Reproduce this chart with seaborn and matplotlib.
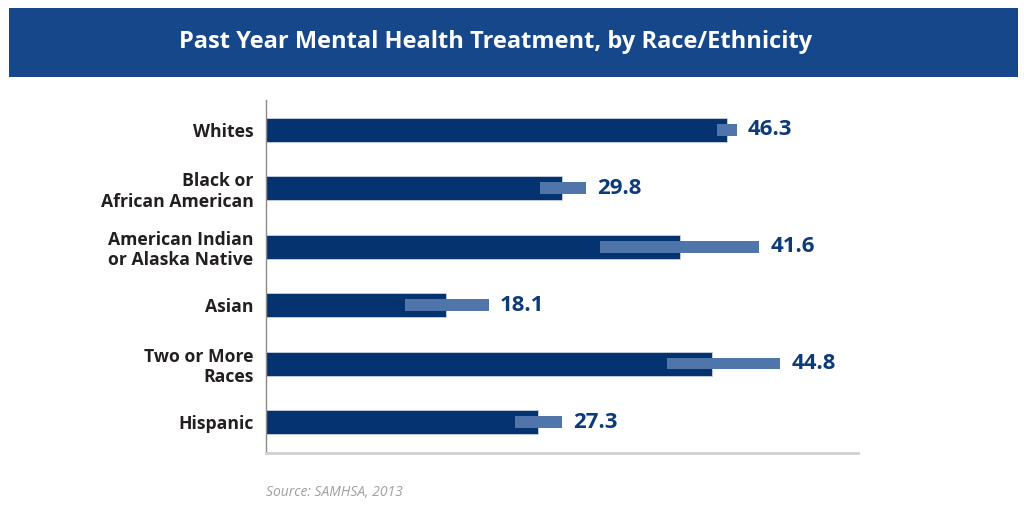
import matplotlib
matplotlib.use("Agg")
import matplotlib.pyplot as plt
import seaborn as sns
import pandas as pd
from matplotlib.patches import Rectangle

categories = ["Whites", "Black or\nAfrican American", "American Indian\nor Alaska Native",
              "Asian", "Two or More\nRaces", "Hispanic"]
values = [46.3, 29.8, 41.6, 18.1, 44.8, 27.3]
ci_low = [45.3, 27.5, 33.6, 14.0, 40.3, 25.0]
ci_high = [47.3, 32.2, 49.6, 22.4, 51.7, 29.8]
title = "Past Year Mental Health Treatment, by Race/Ethnicity"
source = "Source: SAMHSA, 2013"

sns.set_theme(style="white")
plt.rcParams["font.family"] = ["Open Sans", "DejaVu Sans"]

df = pd.DataFrame({"cat": categories, "val": values})

fig = plt.figure(figsize=(10.24, 5.18), dpi=100)
W, H = 1024, 518

# Title banner
fig.patches.append(Rectangle((9 / W, 1 - 77 / H), (1018 - 9) / W, (77 - 8) / H,
                             transform=fig.transFigure, facecolor="#16478a",
                             edgecolor="none", zorder=0))
fig.text(496 / W, 1 - 42 / H, title, ha="center", va="center", color="white",
         fontsize=17, fontweight="bold")

ax = fig.add_axes([266 / W, 1 - 453 / H, (858 - 266) / W, (453 - 100) / H])
sns.barplot(data=df, y="cat", x="val", orient="h", color="#04336f", width=0.41,
            saturation=1, ax=ax, zorder=2, linewidth=0.6, edgecolor="#c8d2e0")
ypos = range(len(categories))
ax.barh(list(ypos), [h - l for l, h in zip(ci_low, ci_high)], left=ci_low,
        height=0.2, color="#5075aa", linewidth=0, zorder=3)
for i, (v, h) in enumerate(zip(values, ci_high)):
    ax.text(h + 1.1, i, f"{v}", va="center", ha="left", color="#0d3b7a",
            fontsize=16, fontweight="bold")

ax.set_xlim(0, 59.5)
ax.set_ylim(5.53, -0.51)
ax.set_xlabel("")
ax.set_ylabel("")
ax.set_xticks([])
ax.tick_params(axis="y", length=0, pad=9)
for lbl in ax.get_yticklabels():
    lbl.set_fontweight("bold")
    lbl.set_fontsize(12.7)
    lbl.set_color("#231f20")
    lbl.set_linespacing(1.18)
for s in ["top", "right"]:
    ax.spines[s].set_visible(False)
ax.spines["left"].set_color("#8a8a8a")
ax.spines["left"].set_linewidth(1.0)
ax.spines["bottom"].set_color("#d0d0d0")
ax.spines["bottom"].set_linewidth(2.0)

fig.text(266 / W, 1 - 493 / H, source, ha="left", va="center", color="#a0a0a0",
         fontsize=10, fontstyle="italic")

fig.savefig("out.png", dpi=100)
